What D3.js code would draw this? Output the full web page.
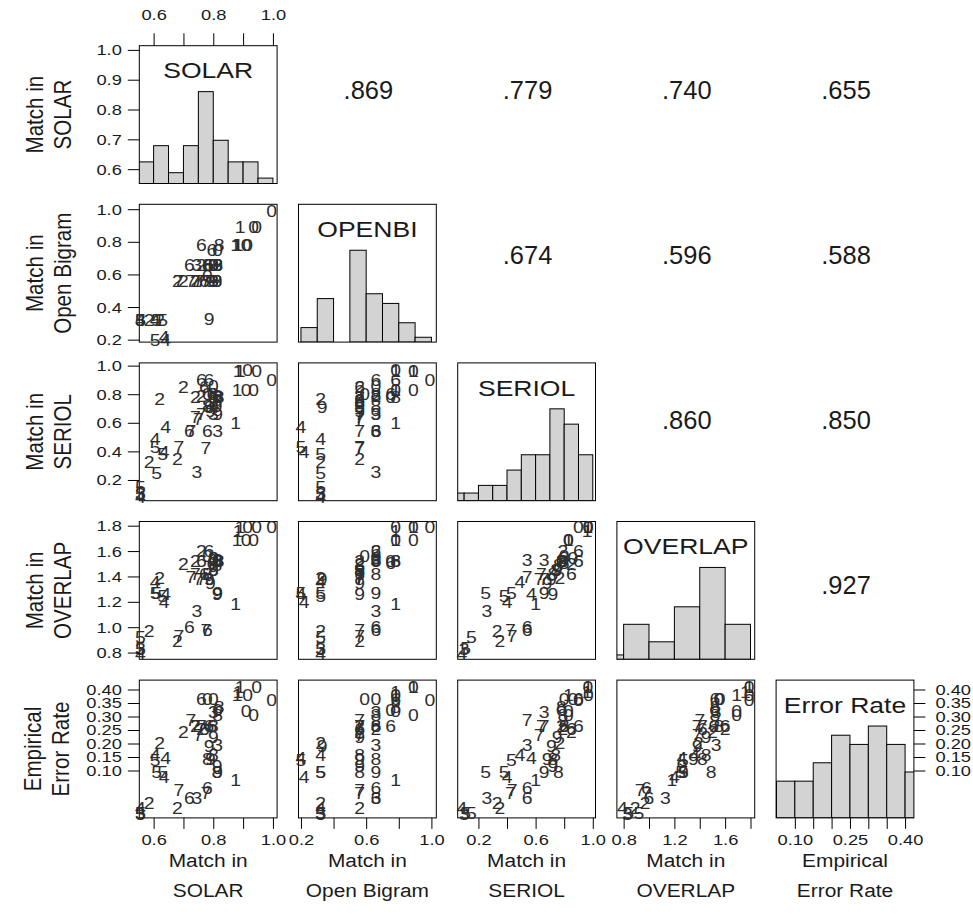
<!DOCTYPE html>
<html>
<head>
<meta charset="utf-8">
<script src="https://cdn.jsdelivr.net/npm/d3@7"></script>
<style>
  body { margin: 0; background: #fff; }
  text { font-family: "Liberation Sans", Arial, Helvetica, sans-serif; }
</style>
</head>
<body>
<svg id="chart" width="973" height="924"></svg>
<script>
// ---- variables shown in the matrix ----
const variables = ["SOLAR", "OPENBI", "SERIOL", "OVERLAP", "ERROR"];
const diagonalTitles = ["SOLAR", "OPENBI", "SERIOL", "OVERLAP", "Error Rate"];
const axisTitles = [
  ["Match in", "SOLAR"],
  ["Match in", "Open Bigram"],
  ["Match in", "SERIOL"],
  ["Match in", "OVERLAP"],
  ["Empirical", "Error Rate"]
];

// plotting range of every variable
const domains = [
  [0.552, 1.014],
  [0.185, 1.030],
  [0.055, 1.019],
  [0.747, 1.833],
  [0.049, 0.424]
];

// tick values and the subset that carries a label
const tickValues = [
  [0.6, 0.7, 0.8, 0.9, 1.0],
  [0.2, 0.4, 0.6, 0.8, 1.0],
  [0.2, 0.4, 0.6, 0.8, 1.0],
  [0.8, 1.0, 1.2, 1.4, 1.6, 1.8],
  [0.10, 0.15, 0.20, 0.25, 0.30, 0.35, 0.40]
];
const bottomLabels = [
  [0.6, 0.8, 1.0],
  [0.2, 0.6, 1.0],
  [0.2, 0.6, 1.0],
  [0.8, 1.2, 1.6],
  [0.10, 0.25, 0.40]
];
const tickDigits = [1, 1, 1, 1, 2];

// histogram bins on the diagonal
const histBreaks = [
  [0.55, 0.60, 0.65, 0.70, 0.75, 0.80, 0.85, 0.90, 0.95, 1.00],
  [0.2, 0.3, 0.4, 0.5, 0.6, 0.7, 0.8, 0.9, 1.0],
  [0.0, 0.1, 0.2, 0.3, 0.4, 0.5, 0.6, 0.7, 0.8, 0.9, 1.0],
  [0.6, 0.8, 1.0, 1.2, 1.4, 1.6, 1.8],
  [0.05, 0.10, 0.15, 0.20, 0.25, 0.30, 0.35, 0.40, 0.45]
];
const histCounts = [
  [4, 7, 2, 7, 17, 8, 4, 4, 1],
  [3, 9, 0, 19, 10, 8, 4, 1],
  [1, 1, 2, 2, 4, 6, 6, 12, 10, 6],
  [1, 8, 4, 12, 21, 8],
  [4, 4, 6, 9, 8, 10, 8, 5]
];

// correlations shown in the upper triangle: [row, column, text]
const correlations = [
  [0, 1, ".869"], [0, 2, ".779"], [0, 3, ".740"], [0, 4, ".655"],
  [1, 2, ".674"], [1, 3, ".596"], [1, 4, ".588"],
  [2, 3, ".860"], [2, 4, ".850"],
  [3, 4, ".927"]
];

// items: label, SOLAR, OPENBI, SERIOL, OVERLAP, ERROR
const labels = [
  "0","0","0","0","0","0","0","0",
  "1","1","1","1",
  "9","9","9","9","9",
  "8","8","8","8","8","8",
  "6","6","6","6","6","6",
  "7","7","7","7","7","7",
  "2","2","2","2","2","2",
  "3","3","3","3",
  "4","4","4","4",
  "5","5","5","5","5"
];
const solar = [
  0.996, 0.945, 0.935, 0.915, 0.910, 0.780, 0.800, 0.815,
  0.890, 0.880, 0.883, 0.875,
  0.786, 0.813, 0.790, 0.815, 0.800,
  0.800, 0.820, 0.800, 0.780, 0.812, 0.815,
  0.760, 0.785, 0.720, 0.780, 0.770, 0.795,
  0.725, 0.740, 0.760, 0.750, 0.685, 0.775,
  0.700, 0.620, 0.760, 0.680, 0.585, 0.740,
  0.745, 0.815, 0.800, 0.556,
  0.640, 0.605, 0.635, 0.556,
  0.605, 0.630, 0.610, 0.556, 0.556
];
const openBigram = [
  0.99, 0.89, 0.89, 0.78, 0.78, 0.59, 0.66, 0.75,
  0.89, 0.78, 0.78, 0.78,
  0.33, 0.56, 0.56, 0.66, 0.56,
  0.66, 0.78, 0.56, 0.66, 0.56, 0.66,
  0.78, 0.66, 0.66, 0.66, 0.56, 0.75,
  0.56, 0.56, 0.56, 0.56, 0.56, 0.56,
  0.56, 0.32, 0.66, 0.56, 0.32, 0.56,
  0.66, 0.66, 0.66, 0.32,
  0.20, 0.32, 0.22, 0.32,
  0.20, 0.32, 0.32, 0.32, 0.32
];
const seriol = [
  0.90, 0.965, 0.83, 0.97, 0.83, 0.80, 0.86, 0.78,
  0.965, 0.83, 0.96, 0.60,
  0.71, 0.72, 0.68, 0.66, 0.75,
  0.80, 0.78, 0.74, 0.72, 0.76, 0.79,
  0.90, 0.90, 0.54, 0.54, 0.85, 0.80,
  0.54, 0.64, 0.66, 0.625, 0.435, 0.424,
  0.85, 0.77, 0.79, 0.35, 0.33, 0.78,
  0.26, 0.54, 0.66, 0.10,
  0.57, 0.49, 0.40, 0.085,
  0.43, 0.38, 0.25, 0.15, 0.11
];
const overlap = [
  1.79, 1.79, 1.69, 1.79, 1.69, 1.56, 1.55, 1.52,
  1.79, 1.69, 1.76, 1.18,
  1.38, 1.26, 1.35, 1.27, 1.45,
  1.55, 1.52, 1.45, 1.42, 1.49, 1.52,
  1.52, 1.60, 1.00, 0.98, 1.42, 1.51,
  1.40, 1.42, 1.38, 1.38, 0.93, 0.98,
  1.50, 1.39, 1.60, 0.89, 0.97, 1.52,
  1.13, 1.53, 1.53, 0.83,
  1.26, 1.36, 1.20, 0.79,
  1.27, 1.25, 1.27, 0.92, 0.84
];
const errorRate = [
  0.369, 0.405, 0.330, 0.383, 0.340, 0.373, 0.373, 0.342,
  0.405, 0.383, 0.392, 0.153,
  0.245, 0.190, 0.210, 0.175, 0.270,
  0.300, 0.350, 0.220, 0.210, 0.175, 0.330,
  0.373, 0.300, 0.103, 0.130, 0.290, 0.300,
  0.315, 0.300, 0.300, 0.274, 0.126, 0.117,
  0.283, 0.252, 0.290, 0.076, 0.090, 0.300,
  0.103, 0.247, 0.337, 0.060,
  0.211, 0.220, 0.160, 0.076,
  0.207, 0.175, 0.175, 0.063, 0.063
];
const columns = [solar, openBigram, seriol, overlap, errorRate];
const items = labels.map((lab, k) => ({ label: lab, values: columns.map(c => c[k]) }));

// ---- layout ----
const svg = d3.select("#chart");
const originX = 139.3, originY = 45.7, stepX = 159.2, stepY = 158.6, size = 137.8;
const n = variables.length;
const font = "'Liberation Sans', Arial, Helvetica, sans-serif";
const stretch = 1.18;   // glyphs are drawn a little wider than tall
const ink = "#1a1a1a";

const xScales = domains.map((d, i) => d3.scaleLinear().domain(d).range([originX + i * stepX, originX + i * stepX + size]));
const yScales = domains.map((d, j) => d3.scaleLinear().domain(d).range([originY + j * stepY + size, originY + j * stepY]));
// tick positions printed beside the error-rate row
const errorTickScale = d3.scaleLinear().domain([0.10, 0.40]).range([770.5, 689.5]);

const fmt = i => d3.format("." + tickDigits[i] + "f");

// place a horizontally widened text at (x, y)
function wideText(g, x, y, str, sizePx, anchor, sx = stretch) {
  return g.append("text")
    .attr("transform", `translate(${x},${y}) scale(${sx},1)`)
    .attr("dy", "0.36em")
    .attr("text-anchor", anchor)
    .attr("font-size", sizePx)
    .attr("fill", ink)
    .text(str);
}

for (let j = 0; j < n; j++) {
  for (let i = 0; i < n; i++) {
    const x0 = originX + i * stepX, y0 = originY + j * stepY;
    if (i < j) {
      // scatter panel: each item written as its label
      const g = svg.append("g");
      g.append("rect").attr("x", x0).attr("y", y0).attr("width", size).attr("height", size)
        .attr("fill", "none").attr("stroke", "#000").attr("stroke-width", 1);
      g.selectAll("text").data(items).join("text")
        .attr("transform", d => `translate(${xScales[i](d.values[i])},${yScales[j](d.values[j])}) scale(1.14,1)`)
        .attr("dy", "0.36em")
        .attr("text-anchor", "middle")
        .attr("font-size", 17)
        .attr("fill", "#2e2e2e")
        .text(d => d.label);
    } else if (i === j) {
      // histogram panel
      const g = svg.append("g");
      const clipId = "clip" + i;
      g.append("clipPath").attr("id", clipId).append("rect")
        .attr("x", x0).attr("y", y0).attr("width", size).attr("height", size);
      const counts = histCounts[i], breaks = histBreaks[i];
      const maxC = d3.max(counts);
      const hY = d3.scaleLinear().domain([0, 1.5]).range([y0 + size, y0]);
      const bins = counts.map((c, k) => ({ x0: breaks[k], x1: breaks[k + 1], h: c / maxC }));
      g.append("g").attr("clip-path", `url(#${clipId})`)
        .selectAll("rect").data(bins.filter(b => b.h > 0)).join("rect")
        .attr("x", b => xScales[i](b.x0))
        .attr("width", b => xScales[i](b.x1) - xScales[i](b.x0))
        .attr("y", b => hY(b.h))
        .attr("height", b => hY(0) - hY(b.h))
        .attr("fill", "#d3d3d3").attr("stroke", "#000").attr("stroke-width", 1);
      g.append("rect").attr("x", x0).attr("y", y0).attr("width", size).attr("height", size)
        .attr("fill", "none").attr("stroke", "#000").attr("stroke-width", 1);
      wideText(g, x0 + size / 2, y0 + 24.5, diagonalTitles[i], 22.5, "middle");
    }
  }
}

// upper triangle correlations
{
  const g = svg.append("g");
  correlations.forEach(([r, c, t]) => {
    wideText(g, originX + c * stepX + size / 2 + 1, originY + r * stepY + 44 + 6.6 * r, t, 25, "middle", 1.02);
  });
}

// restyle tick labels of an axis group with widened glyphs
function styleAxis(g) {
  g.select(".domain").remove();
  g.selectAll("line").attr("stroke", "#000");
  g.selectAll("text").each(function () {
    const t = d3.select(this);
    const x = +t.attr("x") || 0;
    t.attr("x", x / stretch)
      .attr("transform", `scale(${stretch},1)`)
      .attr("font-size", 15.5).attr("font-family", font).attr("fill", ink);
  });
}

// left axes
for (let j = 0; j < n; j++) {
  const yPos = j === n - 1 ? errorTickScale : yScales[j];
  const axis = d3.axisLeft(yPos).tickValues(tickValues[j]).tickFormat(fmt(j)).tickSize(11.5).tickPadding(6);
  const g = svg.append("g").attr("transform", `translate(${originX},0)`).call(axis);
  styleAxis(g);
}

// right axis on the error-rate row
{
  const axis = d3.axisRight(errorTickScale).tickValues(tickValues[4]).tickFormat(fmt(4)).tickSize(11.5).tickPadding(10);
  const g = svg.append("g").attr("transform", `translate(${originX + 4 * stepX + size},0)`).call(axis);
  styleAxis(g);
}

// top axis above the first column
{
  const axis = d3.axisTop(xScales[0]).tickValues(tickValues[0])
    .tickFormat(v => bottomLabels[0].some(b => Math.abs(b - v) < 1e-9) ? fmt(0)(v) : "")
    .tickSize(12.4).tickPadding(13.5);
  const g = svg.append("g").attr("transform", `translate(0,${originY})`).call(axis);
  styleAxis(g);
}

// bottom axes
const bottomY = originY + (n - 1) * stepY + size;
for (let i = 0; i < n; i++) {
  const axis = d3.axisBottom(xScales[i]).tickValues(tickValues[i])
    .tickFormat(v => bottomLabels[i].some(b => Math.abs(b - v) < 1e-9) ? fmt(i)(v) : "")
    .tickSize(11).tickPadding(5);
  const g = svg.append("g").attr("transform", `translate(0,${bottomY})`).call(axis);
  styleAxis(g);
}

// axis titles
for (let i = 0; i < n; i++) {
  const cx = originX + i * stepX + size / 2;
  wideText(svg, cx, 860, axisTitles[i][0], 19, "middle", 1.1);
  wideText(svg, cx, 890, axisTitles[i][1], 19, "middle", 1.1);
}
for (let j = 0; j < n; j++) {
  const cy = originY + j * stepY + size / 2;
  const xs = j === n - 1 ? [41, 69] : [43, 71];
  axisTitles[j].forEach((t, k) => {
    svg.append("text")
      .attr("transform", `translate(${xs[k]},${cy}) rotate(-90) scale(1.03,${stretch})`)
      .attr("text-anchor", "middle").attr("font-size", 20).attr("fill", ink)
      .text(t);
  });
}
</script>
</body>
</html>
